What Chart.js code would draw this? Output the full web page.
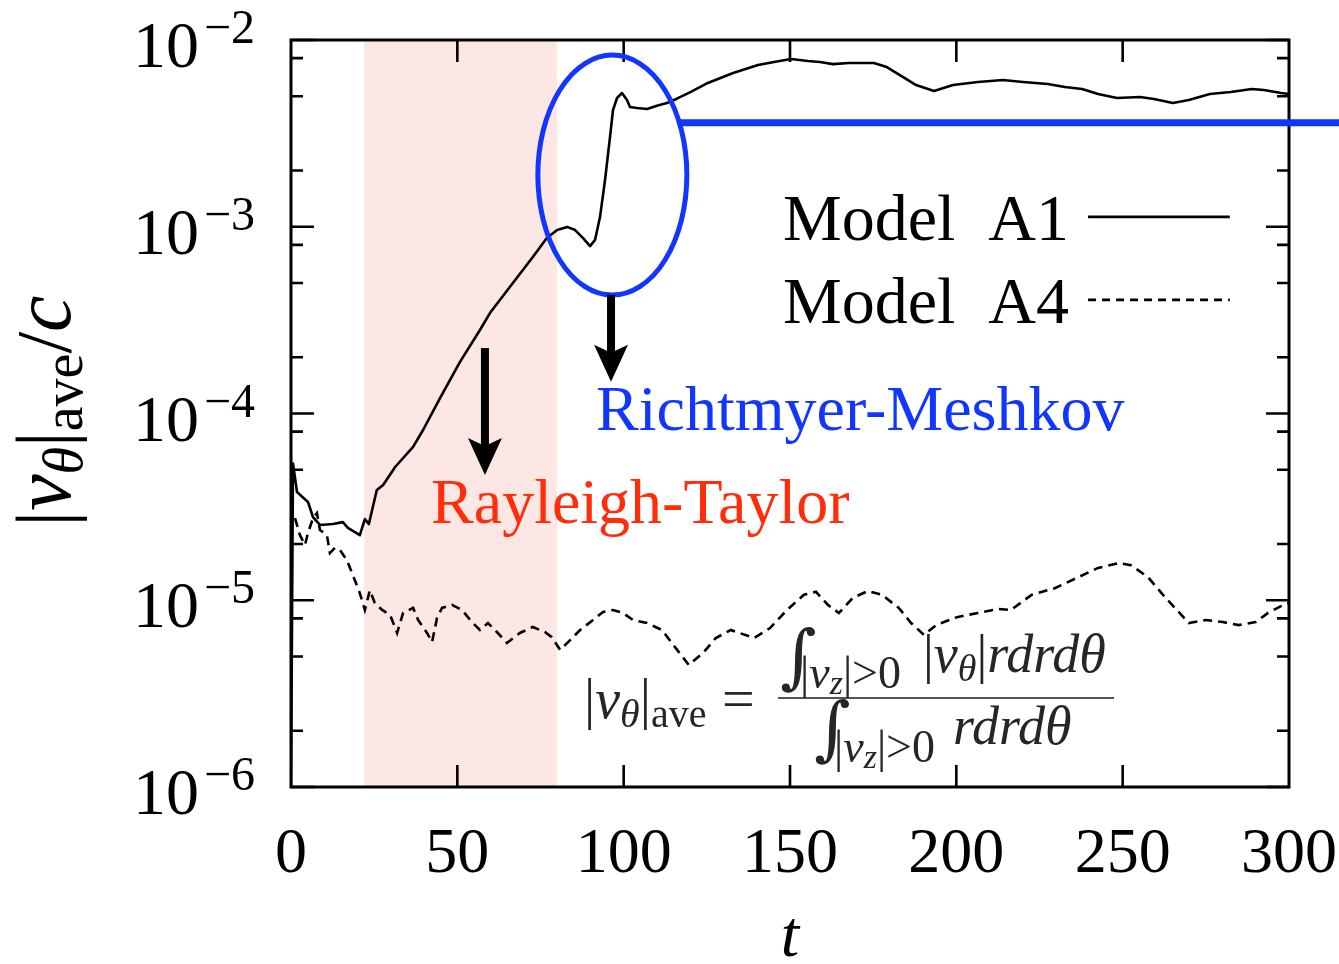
<!DOCTYPE html>
<html>
<head>
<meta charset="utf-8">
<script src="https://cdn.jsdelivr.net/npm/chart.js@4.4.1/dist/chart.umd.min.js"></script>
<style>
  html, body { margin: 0; padding: 0; background: #fff; }
  #wrap { width: 1339px; height: 964px; }
</style>
</head>
<body>
<div id="wrap"><canvas id="chart" width="1339" height="964"></canvas></div>
<script>
const SERIF = "'Liberation Serif', 'Times New Roman', serif";
const BLUE = '#1036ff';
const RED = '#ff2d0a';

// Model A1: mean |v_theta| / c against t
const tA1 = [0, 0.6, 1.8, 5.1, 6.6, 8.7, 12.6, 15.6, 17.1, 20.7, 22.2, 23.4, 25.8, 27.7, 31.3,
  36.7, 39.7, 44.8, 50.8, 56.8, 59.8, 66.7, 72.7, 76.9, 80.0, 83.0, 85.4, 87.8, 89.9, 91.4,
  92.9, 94.4, 95.9, 96.8, 98.0, 99.5, 101.0, 101.9, 104.0, 107.0, 110.0, 113.0, 116.0, 120.2,
  125.3, 132.9, 140.4, 145.2, 150.3, 155.4, 159.0, 162.9, 167.7, 175.2, 179.1, 183.9, 187.9,
  193.3, 199.0, 206.5, 214.0, 220.0, 227.5, 232.6, 237.8, 242.6, 248.3, 255.2, 259.4, 265.1,
  269.9, 276.2, 282.5, 288.8, 292.5, 297.6, 300];
const vA1 = [1.0e-6, 5.4e-5, 3.8e-5, 3.36e-5, 2.79e-5, 2.53e-5, 2.56e-5, 2.62e-5, 2.44e-5, 2.23e-5,
  2.72e-5, 2.56e-5, 3.89e-5, 4.14e-5, 5.17e-5, 6.62e-5, 8.16e-5, 1.21e-4, 1.89e-4, 2.80e-4,
  3.45e-4, 5.0e-4, 6.89e-4, 8.7e-4, 9.6e-4, 9.98e-4, 9.6e-4, 8.7e-4, 7.88e-4, 8.5e-4,
  1.13e-3, 1.78e-3, 3.03e-3, 4.22e-3, 4.89e-3, 5.2e-3, 4.77e-3, 4.38e-3, 4.32e-3, 4.27e-3,
  4.45e-3, 4.6e-3, 4.85e-3, 5.27e-3, 5.89e-3, 6.66e-3, 7.35e-3, 7.62e-3, 7.91e-3, 7.72e-3,
  7.62e-3, 7.43e-3, 7.53e-3, 7.53e-3, 7.16e-3, 6.34e-3, 5.74e-3, 5.33e-3, 5.74e-3, 5.96e-3,
  6.11e-3, 5.96e-3, 5.81e-3, 5.60e-3, 5.47e-3, 5.14e-3, 4.89e-3, 4.95e-3, 4.83e-3, 4.60e-3,
  4.77e-3, 5.14e-3, 5.27e-3, 5.47e-3, 5.40e-3, 5.20e-3, 5.14e-3];

// Model A4
const tA4 = [1.2, 2.7, 4.2, 5.1, 6.6, 7.8, 8.7, 10.8, 11.7, 13.2, 14.7, 16.8, 19.2, 20.7, 22.2,
  23.7, 25.2, 27.4, 29.8, 31.9, 33.7, 36.7, 38.2, 40.9, 42.4, 43.9, 45.4, 48.4, 51.4, 54.4,
  56.8, 59.2, 61.9, 64.9, 68.8, 72.7, 76.3, 78.4, 80.9, 83.9, 86.9, 90.8, 93.8, 96.8, 99.8,
  102.8, 107.0, 111.5, 115.4, 119.6, 124.1, 127.7, 132.2, 139.2, 144.0, 149.1, 154.2, 157.8,
  161.4, 164.7, 168.9, 173.4, 177.6, 182.7, 186.4, 190.3, 193.9, 200.2, 206.5, 212.8, 216.4,
  222.7, 229.6, 236.3, 242.6, 248.9, 252.5, 257.6, 262.7, 266.3, 269.9, 275.0, 280.1, 284.9,
  290.0, 293.7, 297.6, 300];
const vA4 = [2.75e-5, 2.23e-5, 1.98e-5, 2.29e-5, 2.75e-5, 2.93e-5, 2.38e-5, 2.23e-5, 1.79e-5,
  1.91e-5, 1.86e-5, 1.64e-5, 1.28e-5, 1.09e-5, 8.87e-6, 1.13e-5, 9.66e-6, 8.87e-6, 8.34e-6,
  6.68e-6, 8.55e-6, 9.1e-6, 7.84e-6, 6.68e-6, 5.97e-6, 8.03e-6, 9.1e-6, 9.44e-6, 8.87e-6,
  7.64e-6, 6.93e-6, 7.55e-6, 6.76e-6, 5.90e-6, 6.68e-6, 7.19e-6, 6.76e-6, 6.35e-6, 5.42e-6,
  6.12e-6, 6.93e-6, 7.84e-6, 8.65e-6, 8.87e-6, 8.55e-6, 7.84e-6, 7.55e-6, 6.93e-6, 5.62e-6,
  4.50e-6, 5.28e-6, 6.28e-6, 6.93e-6, 6.28e-6, 7.10e-6, 8.87e-6, 1.07e-5, 1.11e-5, 9.44e-6,
  8.55e-6, 1.03e-5, 1.12e-5, 1.07e-5, 9.1e-6, 7.55e-6, 6.52e-6, 7.36e-6, 8.12e-6, 8.55e-6,
  8.98e-6, 8.87e-6, 1.07e-5, 1.16e-5, 1.32e-5, 1.49e-5, 1.58e-5, 1.54e-5, 1.33e-5, 1.04e-5,
  8.87e-6, 7.55e-6, 7.84e-6, 7.64e-6, 7.36e-6, 7.64e-6, 8.55e-6, 9.3e-6, 9.66e-6];

const xTickValues = [0, 50, 100, 150, 200, 250, 300];
const yExponents = [-2, -3, -4, -5, -6];
const minorMantissas = [2, 5, 8];
const rtPhase = [22, 80];

const toPoints = (ts, vs) => ts.map((t, i) => ({ x: t, y: vs[i] }));

// draw a run of text pieces [text, size, italic, dy] starting at (x, y)
function runText(ctx, x, y, pieces, family) {
  let cx = x;
  for (const [text, size, italic, dy] of pieces) {
    ctx.font = `${italic ? 'italic ' : ''}${size}px ${family || SERIF}`;
    ctx.fillText(text, cx, y + (dy || 0));
    cx += ctx.measureText(text).width;
  }
  return cx;
}

function runWidth(ctx, pieces) {
  let w = 0;
  for (const [text, size, italic] of pieces) {
    ctx.font = `${italic ? 'italic ' : ''}${size}px ${SERIF}`;
    w += ctx.measureText(text).width;
  }
  return w;
}

function arrowDown(ctx, x, yTop, yTip) {
  ctx.fillStyle = '#000';
  ctx.fillRect(x - 4, yTop, 8, yTip - yTop - 26);
  ctx.beginPath();
  ctx.moveTo(x, yTip);
  ctx.lineTo(x - 17, yTip - 37);
  ctx.lineTo(x, yTip - 29);
  ctx.lineTo(x + 17, yTip - 37);
  ctx.closePath();
  ctx.fill();
}

const decor = {
  id: 'decor',
  beforeDatasetsDraw(chart) {
    const { ctx, chartArea: a, scales: { x } } = chart;
    const x0 = x.getPixelForValue(rtPhase[0]);
    const x1 = x.getPixelForValue(rtPhase[1]);
    ctx.save();
    ctx.fillStyle = '#fde7e5';
    ctx.fillRect(x0, a.top, x1 - x0, a.bottom - a.top);
    ctx.restore();
  },
  afterDatasetsDraw(chart) {
    const { ctx, chartArea: a, scales: { x, y } } = chart;
    ctx.save();
    ctx.strokeStyle = '#000';
    ctx.lineWidth = 3;
    ctx.strokeRect(a.left, a.top, a.right - a.left, a.bottom - a.top);

    ctx.lineWidth = 2.6;
    ctx.beginPath();
    // x ticks, pointing inward from top and bottom
    xTickValues.slice(1, -1).forEach(t => {
      const px = x.getPixelForValue(t);
      ctx.moveTo(px, a.bottom); ctx.lineTo(px, a.bottom - 22);
      ctx.moveTo(px, a.top); ctx.lineTo(px, a.top + 22);
    });
    // y ticks on both sides: decades long, 2/5/8 short
    yExponents.forEach(e => {
      const py = y.getPixelForValue(Math.pow(10, e));
      ctx.moveTo(a.left, py); ctx.lineTo(a.left + 23, py);
      ctx.moveTo(a.right, py); ctx.lineTo(a.right - 23, py);
      if (e === -2) return;
      minorMantissas.forEach(m => {
        const pm = y.getPixelForValue(m * Math.pow(10, e));
        ctx.moveTo(a.left, pm); ctx.lineTo(a.left + 12, pm);
        ctx.moveTo(a.right, pm); ctx.lineTo(a.right - 12, pm);
      });
    });
    ctx.stroke();

    // tick labels
    ctx.fillStyle = '#000';
    ctx.textBaseline = 'alphabetic';
    ctx.font = `64px ${SERIF}`;
    ctx.textAlign = 'center';
    xTickValues.forEach(t => ctx.fillText(String(t), x.getPixelForValue(t), a.bottom + 85));
    ctx.textAlign = 'left';
    yExponents.forEach(e => {
      const py = y.getPixelForValue(Math.pow(10, e));
      const sup = '\u2212' + String(-e);
      const wBase = runWidth(ctx, [['10', 66]]);
      const wSup = runWidth(ctx, [[sup, 48]]);
      const x0 = a.left - 36 - wBase - 5 - wSup;
      runText(ctx, x0, py + 27, [['10', 66]]);
      runText(ctx, x0 + wBase + 5, py + 3, [[sup, 48]]);
    });
    ctx.restore();
  },
  afterDraw(chart) {
    const { ctx, chartArea: a, scales: { x, y } } = chart;
    const P = (t, v) => [x.getPixelForValue(t), y.getPixelForValue(v)];
    ctx.save();

    // Richtmyer-Meshkov marker: ellipse plus leader line to the right edge
    const [ex, ey] = P(96.6, 1.89e-3);
    const rx = 74.5, ry = 120;
    ctx.strokeStyle = BLUE;
    ctx.lineWidth = 5;
    ctx.beginPath();
    ctx.ellipse(ex, ey, rx, ry, 0, 0, Math.PI * 2);
    ctx.stroke();
    const ly = y.getPixelForValue(3.6e-3);
    const dy = (ly - ey) / ry;
    const lx = ex + rx * Math.sqrt(1 - dy * dy);
    ctx.lineWidth = 7;
    ctx.beginPath();
    ctx.moveTo(lx, ly);
    ctx.lineTo(chart.width, ly);
    ctx.stroke();

    // arrows
    const [ax1, ay1] = P(58.3, 2.24e-4);
    arrowDown(ctx, ax1, ay1, y.getPixelForValue(4.69e-5));
    const [ax2, ay2] = P(96.2, 4.32e-4);
    arrowDown(ctx, ax2, ay2, y.getPixelForValue(1.48e-4));

    // instability labels
    ctx.textAlign = 'left';
    ctx.textBaseline = 'alphabetic';
    ctx.font = `64px ${SERIF}`;
    ctx.fillStyle = BLUE;
    ctx.fillText('Richtmyer-Meshkov', ...P(91.7, 8.17e-5));
    ctx.fillStyle = RED;
    ctx.fillText('Rayleigh-Taylor', ...P(42.1, 2.6e-5));

    // legend
    ctx.fillStyle = '#000';
    ctx.font = `66px ${SERIF}`;
    ctx.fillText('Model  A1', ...P(147.9, 8.49e-4));
    ctx.fillText('Model  A4', ...P(147.9, 3.05e-4));
    const lx0 = x.getPixelForValue(239.6), lx1 = x.getPixelForValue(282.2);
    ctx.strokeStyle = '#000';
    ctx.lineWidth = 2.6;
    ctx.beginPath();
    const yl1 = y.getPixelForValue(1.13e-3);
    ctx.moveTo(lx0, yl1); ctx.lineTo(lx1, yl1);
    ctx.stroke();
    ctx.setLineDash([8, 6]);
    ctx.beginPath();
    const yl2 = y.getPixelForValue(4.06e-4);
    ctx.moveTo(lx0, yl2); ctx.lineTo(lx1, yl2);
    ctx.stroke();
    ctx.setLineDash([]);

    // definition of the average
    const [bx, by] = P(146.4, 3.0e-6);
    ctx.save();
    ctx.filter = 'blur(0.5px)';
    ctx.fillStyle = '#262626';
    ctx.strokeStyle = '#555';
    runText(ctx, bx - 194, by + 20, [['|', 56], ['v', 56, true], ['θ', 40, true, 9], ['|', 56], ['ave', 40, false, 9]]);
    runText(ctx, bx - 56, by + 20, [['=', 58]]);
    ctx.lineWidth = 2;
    ctx.beginPath();
    ctx.moveTo(bx, by); ctx.lineTo(bx + 336, by);
    ctx.stroke();
    const sub = [['|', 46], ['v', 46, true], ['z', 34, true, 6], ['|', 46], ['>0', 46]];
    runText(ctx, bx + 2, by - 18, [['∫', 70]], "'DejaVu Serif', serif");
    runText(ctx, bx + 22, by - 10, sub);
    runText(ctx, bx + 145, by - 26, [['|', 54], ['v', 54, true], ['θ', 38, true, 9], ['|', 54], ['rdrdθ', 54, true]]);
    runText(ctx, bx + 36, by + 54, [['∫', 70]], "'DejaVu Serif', serif");
    runText(ctx, bx + 56, by + 64, sub);
    runText(ctx, bx + 175, by + 46, [['rdrdθ', 54, true]]);
    ctx.restore();

    // axis titles
    ctx.fillStyle = '#000';
    ctx.textAlign = 'center';
    ctx.font = `italic 66px ${SERIF}`;
    ctx.fillText('t', (a.left + a.right) / 2, 956);

    const yTitle = [['|', 78], ['v', 82, true], ['θ', 56, true, 12], ['|', 78], ['ave', 56, false, 12], ['/', 78], ['c', 82, true]];
    ctx.textAlign = 'left';
    const w = runWidth(ctx, yTitle);
    ctx.translate(70, 411 + w / 2);
    ctx.rotate(-Math.PI / 2);
    runText(ctx, 0, 0, yTitle);
    ctx.restore();
  }
};

new Chart(document.getElementById('chart'), {
  type: 'line',
  data: {
    datasets: [
      {
        label: 'Model A1',
        data: toPoints(tA1, vA1),
        borderColor: '#000',
        borderWidth: 2.6,
        pointRadius: 0,
        tension: 0,
        borderJoinStyle: 'round',
      },
      {
        label: 'Model A4',
        data: toPoints(tA4, vA4),
        borderColor: '#000',
        borderWidth: 2.6,
        borderDash: [9, 6],
        pointRadius: 0,
        tension: 0,
      }
    ]
  },
  options: {
    responsive: false,
    animation: false,
    layout: { padding: { left: 291, right: 50, top: 40, bottom: 177 } },
    plugins: { legend: { display: false }, tooltip: { enabled: false } },
    scales: {
      x: { type: 'linear', min: 0, max: 300, display: false },
      y: { type: 'logarithmic', min: 1e-6, max: 1e-2, display: false }
    }
  },
  plugins: [decor]
});
</script>
</body>
</html>
